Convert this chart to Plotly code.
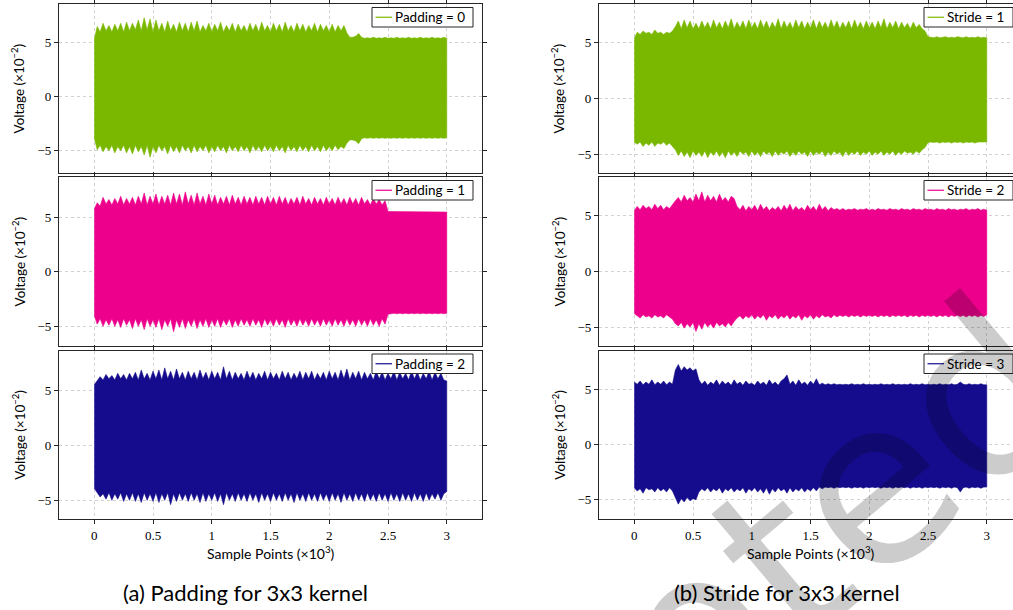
import plotly.graph_objects as go

# ---------------- data (values in 10^-2 V, x in 10^3 samples) ----------------
SAMPLE_POINTS = [i * 0.025 for i in range(121)]  # 0 .. 3 (x 10^3)

P0_HI = [5.3,
         6.5, 6.0, 6.8, 6.1, 6.6, 6.0, 6.7, 6.1, 6.8, 6.0,
         6.9, 6.1, 6.8, 6.2, 7.1, 6.1, 7.3, 6.2, 7.2, 6.0,
         7.1, 6.1, 6.8, 6.0, 7.0, 6.1, 6.7, 6.0, 6.9, 6.1,
         6.8, 6.0, 6.9, 6.1, 7.0, 6.0, 6.6, 6.1, 6.8, 6.0,
         6.7, 6.1, 6.9, 6.0, 6.6, 6.1, 6.8, 6.0, 6.7, 6.1,
         6.6, 6.0, 6.8, 6.1, 6.7, 6.0, 6.9, 6.1, 6.6, 6.0,
         6.8, 6.1, 6.7, 6.0, 6.9, 6.1, 6.6, 6.0, 6.8, 6.1,
         6.7, 6.0, 6.6, 6.1, 6.8, 6.0, 6.7, 6.1, 6.6, 6.0,
         6.7, 6.0, 6.6, 6.1, 6.6, 5.9, 5.5, 5.5, 5.6, 5.85,
         5.5, 5.4, 5.45, 5.4, 5.5, 5.4, 5.45, 5.4, 5.5, 5.4,
         5.45, 5.4, 5.5, 5.4, 5.45, 5.4, 5.5, 5.4, 5.45, 5.4,
         5.5, 5.4, 5.45, 5.4, 5.5, 5.4, 5.45, 5.4, 5.5, 5.4]
P0_LO = [-3.8,
         -4.9, -4.5, -5.1, -4.6, -5.0, -4.5, -5.2, -4.6, -5.0, -4.5,
         -5.2, -4.6, -5.3, -4.5, -5.1, -4.6, -5.4, -4.5, -5.6, -4.6,
         -5.2, -4.5, -5.0, -4.6, -5.3, -4.5, -5.1, -4.6, -5.2, -4.5,
         -5.0, -4.6, -5.2, -4.5, -5.1, -4.6, -5.0, -4.5, -5.2, -4.6,
         -5.1, -4.5, -5.0, -4.6, -5.2, -4.5, -5.0, -4.6, -5.1, -4.5,
         -5.0, -4.6, -5.2, -4.5, -5.0, -4.6, -5.1, -4.5, -5.0, -4.6,
         -5.1, -4.5, -5.0, -4.6, -5.2, -4.5, -5.0, -4.6, -5.1, -4.5,
         -5.0, -4.6, -5.1, -4.5, -5.0, -4.6, -5.1, -4.5, -5.0, -4.6,
         -5.0, -4.5, -4.9, -4.6, -4.8, -4.3, -4.0, -4.0, -4.1, -4.35,
         -3.9, -3.8, -3.85, -3.8, -3.85, -3.8, -3.85, -3.8, -3.85, -3.8,
         -3.85, -3.8, -3.85, -3.8, -3.85, -3.8, -3.85, -3.8, -3.85, -3.8,
         -3.85, -3.8, -3.85, -3.8, -3.85, -3.8, -3.85, -3.8, -3.85, -3.8]

P1_HI = [5.7,
         6.3, 6.0, 6.8, 6.2, 6.6, 6.1, 6.7, 6.2, 6.9, 6.1,
         6.7, 6.2, 6.8, 6.1, 6.9, 6.2, 7.2, 6.1, 6.9, 6.2,
         7.1, 6.1, 6.9, 6.2, 7.0, 6.1, 7.2, 6.2, 7.1, 6.1,
         7.3, 6.2, 7.0, 6.1, 7.2, 6.2, 6.9, 6.1, 7.1, 6.2,
         7.0, 6.1, 6.8, 6.2, 6.9, 6.1, 7.0, 6.2, 6.8, 6.1,
         6.9, 6.2, 6.8, 6.1, 6.9, 6.2, 6.8, 6.1, 6.9, 6.2,
         6.8, 6.1, 6.9, 6.2, 6.8, 6.1, 6.7, 6.2, 6.8, 6.1,
         6.9, 6.2, 6.7, 6.1, 6.8, 6.2, 6.7, 6.1, 6.8, 6.2,
         6.7, 6.1, 6.8, 6.2, 6.7, 6.1, 6.8, 6.2, 6.7, 6.1,
         6.8, 6.2, 6.6, 6.1, 6.7, 6.2, 6.6, 6.1, 6.5, 5.5,
         5.5, 5.45, 5.5, 5.45, 5.5, 5.45, 5.5, 5.45, 5.5, 5.45,
         5.5, 5.45, 5.5, 5.45, 5.5, 5.45, 5.5, 5.45, 5.5, 5.45]
P1_LO = [-4.0,
         -4.8, -4.3, -5.0, -4.4, -4.9, -4.3, -5.0, -4.4, -5.1, -4.3,
         -4.9, -4.4, -5.2, -4.3, -5.0, -4.4, -5.3, -4.3, -5.0, -4.4,
         -5.1, -4.3, -5.3, -4.4, -5.0, -4.3, -5.5, -4.4, -5.1, -4.3,
         -5.2, -4.4, -5.0, -4.3, -5.2, -4.4, -5.0, -4.3, -5.1, -4.4,
         -5.0, -4.3, -5.1, -4.4, -4.9, -4.3, -5.1, -4.4, -5.0, -4.3,
         -4.9, -4.4, -5.0, -4.3, -4.9, -4.4, -5.1, -4.3, -4.9, -4.4,
         -5.0, -4.3, -4.9, -4.4, -5.1, -4.3, -4.9, -4.4, -5.0, -4.3,
         -4.9, -4.4, -5.0, -4.3, -4.9, -4.4, -5.0, -4.3, -4.9, -4.4,
         -5.0, -4.3, -4.9, -4.4, -5.0, -4.3, -4.9, -4.4, -5.0, -4.3,
         -4.9, -4.4, -5.0, -4.3, -4.9, -4.4, -5.0, -4.3, -4.8, -3.9,
         -3.85, -3.8, -3.85, -3.8, -3.85, -3.8, -3.85, -3.8, -3.85, -3.8,
         -3.85, -3.8, -3.85, -3.8, -3.85, -3.8, -3.85, -3.8, -3.85, -3.8]

P2_HI = [5.55,
         5.9, 6.3, 6.0, 6.5, 6.1, 6.4, 6.0, 6.6, 6.1, 6.5,
         6.0, 6.6, 6.1, 6.7, 6.0, 6.9, 6.1, 6.6, 6.0, 6.8,
         6.1, 6.9, 6.0, 7.1, 6.1, 6.8, 6.0, 7.0, 6.1, 6.7,
         6.0, 6.8, 6.1, 6.7, 6.0, 6.9, 6.1, 6.7, 6.0, 6.8,
         6.1, 6.7, 6.0, 7.2, 6.1, 6.8, 6.0, 6.7, 6.1, 6.6,
         6.0, 6.8, 6.1, 6.7, 6.0, 6.6, 6.1, 6.8, 6.0, 6.7,
         6.1, 6.6, 6.0, 6.8, 6.1, 6.7, 6.0, 6.6, 6.1, 6.8,
         6.0, 6.7, 6.1, 6.8, 6.0, 6.6, 6.1, 6.7, 6.0, 6.8,
         6.1, 6.7, 6.0, 6.9, 6.1, 7.0, 6.0, 6.7, 6.1, 6.8,
         6.0, 6.7, 6.1, 6.6, 6.0, 6.8, 6.1, 6.7, 6.0, 6.6,
         6.1, 6.8, 6.0, 6.7, 6.1, 6.6, 6.0, 6.8, 6.1, 6.7,
         6.0, 6.6, 6.1, 6.8, 6.0, 6.7, 6.1, 6.6, 6.0, 5.9]
P2_LO = [-3.9,
         -4.3, -4.7, -4.4, -4.9, -4.3, -5.0, -4.4, -4.9, -4.3, -5.1,
         -4.4, -5.0, -4.3, -5.1, -4.4, -5.2, -4.3, -5.0, -4.4, -5.1,
         -4.3, -5.2, -4.4, -5.0, -4.3, -5.4, -4.4, -5.1, -4.3, -5.0,
         -4.4, -5.1, -4.3, -5.0, -4.4, -5.2, -4.3, -5.1, -4.4, -5.0,
         -4.3, -5.1, -4.4, -5.4, -4.3, -5.0, -4.4, -5.1, -4.3, -5.0,
         -4.4, -5.1, -4.3, -5.0, -4.4, -5.2, -4.3, -5.0, -4.4, -5.1,
         -4.3, -5.0, -4.4, -5.1, -4.3, -5.0, -4.4, -5.2, -4.3, -5.0,
         -4.4, -5.1, -4.3, -5.0, -4.4, -5.1, -4.3, -5.0, -4.4, -5.1,
         -4.3, -5.0, -4.4, -5.2, -4.3, -5.0, -4.4, -5.1, -4.3, -5.0,
         -4.4, -5.1, -4.3, -5.0, -4.4, -5.1, -4.3, -5.0, -4.4, -5.1,
         -4.3, -5.0, -4.4, -5.1, -4.3, -5.0, -4.4, -5.1, -4.3, -5.0,
         -4.4, -5.1, -4.3, -5.0, -4.4, -4.9, -4.3, -5.0, -4.4, -4.2]

S1_HI = [5.35,
         5.9, 5.7, 6.0, 5.8, 5.9, 5.7, 6.1, 5.8, 5.9, 5.7,
         5.9, 5.8, 6.0, 6.4, 6.9, 6.2, 7.0, 6.3, 6.9, 6.2,
         6.7, 6.2, 6.9, 6.3, 6.8, 6.2, 7.0, 6.3, 6.8, 6.2,
         6.9, 6.3, 7.1, 6.2, 6.8, 6.3, 6.9, 6.2, 7.0, 6.3,
         6.8, 6.2, 7.0, 6.3, 6.9, 6.2, 6.8, 6.3, 7.1, 6.2,
         6.9, 6.3, 6.8, 6.2, 7.0, 6.3, 6.9, 6.2, 6.8, 6.3,
         7.0, 6.2, 6.9, 6.3, 6.8, 6.2, 7.0, 6.3, 6.9, 6.2,
         6.8, 6.3, 6.9, 6.2, 7.0, 6.3, 6.8, 6.2, 6.9, 6.3,
         6.8, 6.2, 6.9, 6.3, 7.1, 6.2, 6.8, 6.3, 6.9, 6.2,
         6.8, 6.3, 6.7, 6.2, 6.8, 6.3, 6.6, 6.2, 6.0, 5.5,
         5.45, 5.4, 5.5, 5.4, 5.45, 5.5, 5.4, 5.45, 5.4, 5.5,
         5.45, 5.4, 5.5, 5.4, 5.45, 5.4, 5.5, 5.4, 5.45, 5.4]
S1_LO = [-3.9,
         -4.1, -3.9, -4.3, -4.0, -4.2, -3.9, -4.3, -4.0, -4.1, -3.9,
         -4.2, -4.0, -4.3, -4.6, -5.1, -4.7, -5.2, -4.8, -5.3, -4.7,
         -5.1, -4.8, -5.2, -4.7, -5.3, -4.8, -5.1, -4.7, -5.2, -4.8,
         -5.3, -4.7, -5.1, -4.8, -5.2, -4.7, -5.0, -4.8, -5.2, -4.7,
         -5.1, -4.8, -5.2, -4.7, -5.0, -4.8, -5.2, -4.7, -5.1, -4.8,
         -5.0, -4.7, -5.2, -4.8, -5.1, -4.7, -5.0, -4.8, -5.2, -4.7,
         -5.1, -4.8, -5.0, -4.7, -5.2, -4.8, -5.1, -4.7, -5.0, -4.8,
         -5.2, -4.7, -5.1, -4.8, -5.0, -4.7, -5.1, -4.8, -5.0, -4.7,
         -5.1, -4.8, -5.0, -4.7, -5.1, -4.8, -5.0, -4.7, -5.1, -4.8,
         -5.0, -4.7, -4.9, -4.8, -5.0, -4.7, -4.9, -4.6, -4.4, -3.95,
         -3.9, -3.95, -3.9, -4.0, -3.9, -3.95, -3.9, -4.0, -3.9, -3.95,
         -3.9, -4.0, -3.9, -3.95, -3.9, -4.0, -3.9, -3.95, -3.9, -3.9]

S2_HI = [5.4,
         5.8, 5.5, 5.9, 5.6, 5.8, 5.5, 6.0, 5.6, 5.9, 5.5,
         5.8, 5.6, 6.0, 6.3, 6.6, 6.2, 6.8, 6.3, 6.6, 6.2,
         6.9, 6.3, 7.1, 6.2, 6.8, 6.3, 6.7, 6.2, 6.9, 6.3,
         6.6, 6.2, 6.7, 6.5, 5.8, 5.5, 5.9, 5.4, 5.8, 5.5,
         5.9, 5.4, 6.0, 5.5, 5.8, 5.4, 5.7, 5.5, 5.8, 5.4,
         5.9, 5.5, 6.0, 5.4, 5.8, 5.5, 5.7, 5.4, 5.9, 5.5,
         5.8, 5.4, 6.0, 5.5, 5.8, 5.4, 5.7, 5.5, 5.6, 5.45,
         5.6, 5.45, 5.55, 5.5, 5.6, 5.45, 5.55, 5.5, 5.6, 5.45,
         5.55, 5.45, 5.6, 5.5, 5.55, 5.45, 5.6, 5.5, 5.55, 5.45,
         5.6, 5.5, 5.55, 5.45, 5.6, 5.5, 5.55, 5.45, 5.6, 5.5,
         5.55, 5.45, 5.6, 5.5, 5.55, 5.45, 5.6, 5.5, 5.55, 5.45,
         5.55, 5.5, 5.6, 5.45, 5.55, 5.5, 5.6, 5.45, 5.55, 5.45]
S2_LO = [-3.8,
         -4.0, -4.2, -3.9, -4.1, -4.0, -4.2, -3.9, -4.1, -4.0, -4.2,
         -3.9, -4.1, -4.3, -4.7, -4.9, -4.6, -5.1, -4.7, -5.0, -4.6,
         -5.4, -4.7, -5.2, -4.6, -5.0, -4.7, -5.1, -4.6, -4.9, -4.7,
         -5.0, -4.6, -4.9, -4.5, -4.2, -4.0, -4.3, -4.0, -4.2, -3.9,
         -4.3, -4.0, -4.2, -3.9, -4.4, -4.0, -4.2, -3.9, -4.3, -4.0,
         -4.2, -3.9, -4.3, -4.0, -4.2, -3.9, -4.4, -4.0, -4.2, -3.9,
         -4.3, -4.0, -4.2, -3.9, -4.1, -4.0, -4.2, -3.9, -4.1, -3.95,
         -4.05, -3.95, -4.1, -3.95, -4.05, -3.95, -4.1, -3.95, -4.05, -3.95,
         -4.05, -3.95, -4.1, -3.95, -4.05, -3.95, -4.1, -3.95, -4.05, -3.95,
         -4.05, -3.95, -4.1, -3.95, -4.05, -3.95, -4.1, -3.95, -4.05, -3.95,
         -4.05, -3.95, -4.1, -3.95, -4.05, -3.95, -4.1, -3.95, -4.05, -3.95,
         -4.05, -3.95, -4.1, -3.95, -4.05, -3.95, -4.1, -3.95, -4.05, -3.9]

S3_HI = [5.7,
         5.5, 5.8, 5.45, 5.7, 5.5, 5.9, 5.45, 5.7, 5.5, 5.8,
         5.45, 5.7, 5.5, 6.8, 7.3, 6.7, 7.1, 6.8, 7.0, 6.7,
         6.9, 5.9, 5.5, 5.8, 5.4, 5.7, 5.5, 5.9, 5.4, 5.8,
         5.5, 5.7, 5.4, 5.9, 5.5, 5.7, 5.4, 5.8, 5.5, 5.6,
         5.4, 5.8, 5.5, 5.7, 5.4, 5.9, 5.5, 5.7, 5.4, 5.8,
         6.0, 6.35, 5.5, 5.8, 5.4, 5.9, 5.5, 5.7, 5.4, 5.8,
         5.5, 6.0, 5.45, 5.6, 5.45, 5.55, 5.45, 5.55, 5.45, 5.5,
         5.45, 5.5, 5.45, 5.55, 5.45, 5.5, 5.45, 5.55, 5.45, 5.5,
         5.45, 5.5, 5.45, 5.55, 5.45, 5.5, 5.45, 5.55, 5.45, 5.5,
         5.45, 5.5, 5.45, 5.55, 5.45, 5.5, 5.45, 5.55, 5.45, 5.5,
         5.45, 5.5, 5.45, 5.55, 5.45, 5.5, 5.45, 5.55, 5.45, 5.5,
         5.7, 5.5, 5.45, 5.55, 5.45, 5.5, 5.45, 5.55, 5.45, 5.45]
S3_LO = [-3.9,
         -4.2, -4.0, -4.4, -3.9, -4.1, -4.0, -4.3, -3.9, -4.2, -4.0,
         -4.3, -3.9, -4.2, -4.8, -5.4, -4.9, -5.2, -4.8, -5.1, -4.9,
         -5.0, -4.3, -4.0, -4.2, -3.9, -4.3, -4.0, -4.2, -3.9, -4.4,
         -4.0, -4.2, -3.9, -4.3, -4.0, -4.2, -3.9, -4.4, -4.0, -4.2,
         -3.9, -4.3, -4.0, -4.4, -3.9, -4.5, -4.0, -4.3, -3.9, -4.2,
         -4.0, -4.4, -3.9, -4.3, -4.0, -4.2, -3.9, -4.3, -4.0, -4.2,
         -3.9, -4.2, -3.85, -4.0, -3.85, -3.9, -3.85, -3.95, -3.85, -3.9,
         -3.85, -3.9, -3.85, -3.95, -3.85, -3.9, -3.85, -3.95, -3.85, -3.9,
         -3.85, -3.9, -3.85, -3.95, -3.85, -3.9, -3.85, -3.95, -3.85, -3.9,
         -3.85, -3.9, -3.85, -3.95, -3.85, -3.9, -3.85, -3.95, -3.85, -3.9,
         -3.85, -3.9, -3.85, -3.95, -3.85, -3.9, -3.85, -3.95, -3.85, -3.9,
         -4.3, -3.9, -3.85, -3.95, -3.85, -3.9, -3.85, -3.95, -3.85, -3.85]

LEGEND_NAMES = ["Padding = 0", "Padding = 1", "Padding = 2",
                "Stride = 1", "Stride = 2", "Stride = 3"]
COLORS = ["#7AB800", "#EC008C", "#140C8C"]
X_TICKS = [0, 0.5, 1, 1.5, 2, 2.5, 3]
X_TICK_LABELS = ["0", "0.5", "1", "1.5", "2", "2.5", "3"]
Y_TICKS = [-5, 0, 5]
Y_TICK_LABELS = ["\u22125", "0", "5"]
Y_TITLE = "Voltage (\u00d710<sup>\u22122</sup>)"
X_TITLE = "Sample Points (\u00d710<sup>3</sup>)"
CAPTIONS = ["(a) Padding for 3x3 kernel", "(b) Stride for 3x3 kernel"]
WATERMARK = "Accepted"

SERIES = [(P0_HI, P0_LO), (P1_HI, P1_LO), (P2_HI, P2_LO),
          (S1_HI, S1_LO), (S2_HI, S2_LO), (S3_HI, S3_LO)]
Y_RANGES = [(-7.06, 8.58), (-6.8, 8.66), (-6.71, 8.69),
            (-6.67, 8.42), (-6.7, 8.43), (-6.75, 8.57)]

# ---------------- layout geometry (pixels) ----------------
W, H = 1013, 610
COLS = [(59, 482), (599, 1022)]
ROWS = [(4, 173), (177, 346), (350.5, 519)]
XR = (-0.3, 3.3)

def px(x):
    return x / W

def py(y):
    return 1 - y / H

SERIF = "Liberation Serif"
SANS = "Lato"
AXCOL = "#262626"
GRIDCOL = "#d2d2d2"

fig = go.Figure()
layout = dict(width=W, height=H, margin=dict(l=0, r=0, t=0, b=0),
              paper_bgcolor="white", plot_bgcolor="white", showlegend=False)
annotations = []
shapes = []

for k in range(6):
    c, r = divmod(k, 3)
    idx = k + 1
    xa = "xaxis" if idx == 1 else f"xaxis{idx}"
    ya = "yaxis" if idx == 1 else f"yaxis{idx}"
    xr_ = "x" if idx == 1 else f"x{idx}"
    yr_ = "y" if idx == 1 else f"y{idx}"
    cx0, cx1 = COLS[c]
    ry0, ry1 = ROWS[r]
    dx1 = min(cx1, W)
    xmax = XR[0] + (XR[1] - XR[0]) * (dx1 - cx0) / (cx1 - cx0)
    hi, lo = SERIES[k]
    color = COLORS[r]
    fig.add_trace(go.Scatter(
        x=SAMPLE_POINTS + SAMPLE_POINTS[::-1],
        y=hi + lo[::-1],
        mode="lines", fill="toself", fillcolor=color,
        line=dict(color=color, width=0.6),
        hoverinfo="skip", xaxis=xr_, yaxis=yr_))
    layout[xa] = dict(domain=[px(cx0), px(dx1)], range=[XR[0], xmax],
                      anchor=yr_, tickmode="array", tickvals=X_TICKS,
                      ticktext=X_TICK_LABELS, showticklabels=(r == 2),
                      ticks="outside", ticklen=4, tickcolor=AXCOL, tickwidth=1,
                      showline=True, linecolor=AXCOL, linewidth=1.2, mirror="ticks",
                      showgrid=True, gridcolor=GRIDCOL, griddash="3px,3px", gridwidth=1,
                      zeroline=False, tickfont=dict(family=SERIF, size=13, color="black"))
    layout[ya] = dict(domain=[py(ry1), py(ry0)], range=list(Y_RANGES[k]),
                      anchor=xr_, tickmode="array", tickvals=Y_TICKS,
                      ticktext=Y_TICK_LABELS,
                      ticks="outside", ticklen=4, tickcolor=AXCOL, tickwidth=1,
                      showline=True, linecolor=AXCOL, linewidth=1.2,
                      mirror=("ticks" if c == 0 else False),
                      showgrid=True, gridcolor=GRIDCOL, griddash="3px,3px", gridwidth=1,
                      zeroline=False, tickfont=dict(family=SERIF, size=13, color="black"))
    annotations.append(dict(text=Y_TITLE, x=px(cx0 - 40), y=py((ry0 + ry1) / 2),
                            xref="paper", yref="paper", showarrow=False, textangle=-90,
                            xanchor="center", yanchor="middle",
                            font=dict(family=SANS, size=13.5, color="black")))
    lx0 = cx1 - 110 if c == 0 else 924
    lx1 = cx1 - 9
    ly0 = ry0 + 3.5
    ly1 = ry0 + 23
    shapes.append(dict(type="rect", xref="paper", yref="paper",
                       x0=px(lx0), x1=px(lx1), y0=py(ly1), y1=py(ly0),
                       fillcolor="white", line=dict(color=AXCOL, width=1), layer="above"))
    shapes.append(dict(type="line", xref="paper", yref="paper",
                       x0=px(lx0 + 3.5), x1=px(lx0 + 20), y0=py((ly0 + ly1) / 2),
                       y1=py((ly0 + ly1) / 2), line=dict(color=color, width=1.2),
                       layer="above"))
    annotations.append(dict(text=LEGEND_NAMES[k], x=px(lx0 + 21), y=py((ly0 + ly1) / 2),
                            xref="paper", yref="paper", showarrow=False,
                            xanchor="left", yanchor="middle",
                            font=dict(family=SANS, size=13.5, color="black")))

for c in range(2):
    cx0, cx1 = COLS[c]
    annotations.append(dict(text=X_TITLE, x=px((cx0 + cx1) / 2), y=py(552),
                            xref="paper", yref="paper", showarrow=False,
                            xanchor="center", yanchor="middle",
                            font=dict(family=SANS, size=14, color="black")))

annotations.append(dict(text=CAPTIONS[0], x=px(245), y=py(592), xref="paper", yref="paper",
                        showarrow=False, xanchor="center", yanchor="middle",
                        font=dict(family=SANS, size=22, color="black")))
annotations.append(dict(text=CAPTIONS[1], x=px(787), y=py(592), xref="paper", yref="paper",
                        showarrow=False, xanchor="center", yanchor="middle",
                        font=dict(family=SANS, size=22, color="black")))

annotations.append(dict(text=WATERMARK, x=px(626), y=py(692), xref="paper", yref="paper",
                        showarrow=False, xanchor="center", yanchor="middle", textangle=-40,
                        font=dict(family="DejaVu Sans", size=230, color="rgba(0,0,0,0.2)")))

layout["annotations"] = annotations
layout["shapes"] = shapes
fig.update_layout(**layout)
fig.write_html("out.html", config={"displayModeBar": False},
               post_script="document.body.style.margin='0px';document.body.style.overflow='hidden';")
